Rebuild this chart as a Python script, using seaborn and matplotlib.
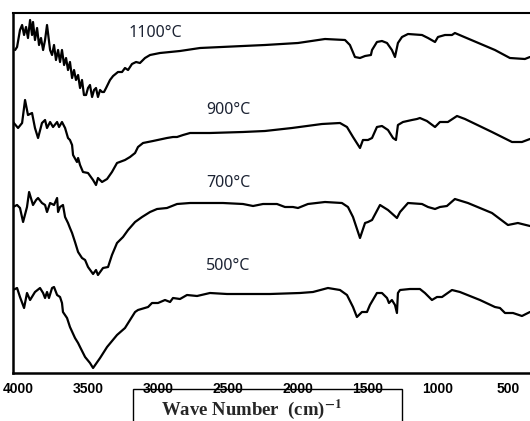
import matplotlib
matplotlib.use("Agg")
import matplotlib.pyplot as plt
from matplotlib.patches import Rectangle
import seaborn as sns

# ---------------- data (wavenumber cm-1, transmittance arbitrary offset units) ----------------
wn_1100 = [4021, 4007, 3986, 3971, 3957, 3943, 3929, 3914, 3900, 3893,
           3879, 3864, 3850, 3836, 3821, 3807, 3793, 3771, 3757, 3743,
           3729, 3714, 3700, 3686, 3671, 3657, 3643, 3629, 3614, 3600,
           3586, 3571, 3557, 3543, 3529, 3514, 3500, 3486, 3471, 3457,
           3443, 3429, 3414, 3400, 3386, 3371, 3343, 3321, 3286, 3257,
           3236, 3214, 3186, 3157, 3129, 3093, 3057, 2986, 2914, 2843,
           2700, 2393, 2236, 2000, 1807, 1664, 1629, 1593, 1557, 1521,
           1479, 1471, 1436, 1400, 1364, 1329, 1307, 1286, 1257, 1214,
           1114, 1071, 1021, 1000, 950, 900, 879, 829, 593, 486,
           379, 343]
t_1100 = [323, 326, 343, 348, 338, 346, 335, 353, 338, 351,
          333, 345, 328, 335, 323, 333, 348, 323, 318, 328,
          313, 323, 311, 323, 308, 315, 303, 311, 295, 303,
          293, 298, 285, 293, 278, 278, 285, 288, 276, 283,
          285, 276, 283, 281, 281, 285, 293, 297, 301, 301,
          305, 303, 309, 311, 310, 315, 318, 320, 321, 322,
          325, 327, 328, 330, 334, 333, 328, 316, 315, 317,
          318, 323, 331, 332, 330, 323, 316, 330, 336, 339,
          338, 335, 331, 336, 338, 338, 340, 337, 323, 315,
          314, 316]

wn_900 = [4036, 4000, 3971, 3950, 3929, 3900, 3879, 3857, 3829, 3807,
          3793, 3771, 3750, 3721, 3707, 3686, 3664, 3643, 3629, 3614,
          3607, 3579, 3571, 3557, 3536, 3500, 3464, 3443, 3429, 3400,
          3364, 3329, 3293, 3236, 3200, 3164, 3143, 3107, 3036, 2936,
          2893, 2864, 2821, 2771, 2629, 2393, 2236, 2043, 1829, 1700,
          1650, 1607, 1557, 1536, 1500, 1471, 1436, 1400, 1357, 1321,
          1300, 1286, 1250, 1186, 1150, 1129, 1079, 1021, 986, 929,
          864, 807, 614, 471, 400, 343]
t_900 = [251, 245, 250, 273, 258, 260, 245, 235, 250, 253,
         245, 251, 246, 251, 246, 251, 245, 235, 233, 228,
         218, 211, 215, 208, 201, 200, 193, 188, 195, 191,
         194, 201, 210, 213, 216, 220, 226, 230, 232, 235,
         236, 236, 238, 240, 240, 241, 242, 245, 249, 250,
         246, 236, 225, 233, 233, 235, 246, 247, 243, 235,
         233, 248, 251, 253, 254, 255, 252, 246, 251, 251,
         257, 254, 241, 231, 231, 234]

wn_700 = [4036, 4007, 3986, 3964, 3936, 3921, 3893, 3871, 3857, 3829,
          3807, 3793, 3771, 3743, 3721, 3714, 3700, 3679, 3664, 3643,
          3629, 3614, 3593, 3571, 3543, 3521, 3500, 3464, 3443, 3429,
          3393, 3357, 3329, 3293, 3250, 3214, 3164, 3114, 3057, 3007,
          2936, 2864, 2771, 2629, 2536, 2393, 2321, 2250, 2150, 2093,
          2036, 2000, 1929, 1807, 1686, 1643, 1607, 1557, 1521, 1500,
          1471, 1414, 1357, 1293, 1271, 1214, 1114, 1071, 1021, 986,
          936, 879, 786, 614, 500, 429, 343]
t_700 = [166, 168, 165, 151, 166, 181, 168, 173, 175, 170,
         168, 161, 170, 168, 175, 161, 166, 168, 156, 150,
         145, 140, 131, 121, 115, 113, 106, 99, 103, 98,
         105, 106, 118, 130, 136, 143, 151, 156, 161, 164,
         165, 169, 170, 170, 170, 169, 167, 169, 169, 166,
         166, 165, 169, 171, 170, 166, 156, 135, 150, 151,
         153, 168, 163, 155, 161, 170, 169, 166, 164, 166,
         167, 174, 170, 160, 148, 150, 147]

wn_500 = [4036, 4007, 3986, 3957, 3936, 3914, 3879, 3843, 3821, 3807,
          3793, 3779, 3757, 3743, 3721, 3700, 3686, 3679, 3650, 3629,
          3593, 3571, 3557, 3521, 3486, 3464, 3414, 3364, 3293, 3236,
          3164, 3143, 3071, 3043, 3000, 2950, 2914, 2893, 2843, 2793,
          2721, 2629, 2507, 2200, 1986, 1893, 1786, 1700, 1650, 1607,
          1579, 1543, 1507, 1486, 1436, 1400, 1364, 1350, 1329, 1307,
          1293, 1286, 1271, 1200, 1129, 1093, 1043, 1007, 971, 900,
          843, 700, 593, 557, 521, 464, 400, 343]
t_500 = [83, 85, 76, 65, 80, 73, 81, 85, 80, 75,
         81, 75, 85, 86, 78, 76, 70, 61, 55, 46,
         35, 30, 26, 16, 10, 5, 15, 26, 38, 45,
         61, 63, 66, 70, 70, 73, 71, 75, 74, 78,
         77, 80, 79, 79, 80, 81, 85, 83, 78, 66,
         56, 61, 61, 68, 80, 80, 75, 70, 73, 68,
         60, 80, 83, 84, 84, 80, 73, 76, 76, 83,
         81, 73, 66, 65, 60, 60, 57, 61]

labels = ["1100°C", "900°C", "700°C", "500°C"]
label_wn = [3020, 2500, 2500, 2500]
label_t = [340, 263, 190, 107]

xticks = [4000, 3500, 3000, 2500, 2000, 1500, 1000, 500]
xlabel = r"Wave Number  (cm)$^{\mathbf{-1}}$"

# ---------------- plotting ----------------
sns.set_style("white")
plt.rcParams["mathtext.fontset"] = "stix"

fig = plt.figure(figsize=(5.30, 4.21), dpi=100)
W, H = 530, 421
ax = fig.add_axes([13 / W, (H - 373) / H, (540 - 13) / W, 360 / H])

for wn, t in [(wn_1100, t_1100), (wn_900, t_900), (wn_700, t_700), (wn_500, t_500)]:
    sns.lineplot(x=wn, y=t, color="black", linewidth=1.6, ax=ax, sort=False)

ax.set_xlim(4036, 271)
ax.set_ylim(0, 360)
ax.set_xticks(xticks)
ax.set_xticklabels([str(v) for v in xticks], fontfamily="Liberation Sans",
                   fontweight="bold", fontsize=10)
ax.set_yticks([])
ax.tick_params(axis="x", direction="out", length=2.5, width=1.5, pad=4.0, colors="black")
for name in ["left", "bottom"]:
    ax.spines[name].set_linewidth(1.8)
    ax.spines[name].set_color("black")
ax.spines["top"].set_linewidth(1.5)
ax.spines["top"].set_color("black")
ax.spines["right"].set_visible(False)
ax.set_xlabel("")
ax.set_ylabel("")

for lab, x, y in zip(labels, label_wn, label_t):
    ax.text(x, y, lab, ha="center", va="center", fontsize=11.5,
            fontfamily="Noto Sans", color="#1c2333")

# x-axis label in a box
rect = Rectangle((133 / W, -0.05), (402 - 133) / W, (H - 389) / H + 0.05,
                 transform=fig.transFigure, fill=False, edgecolor="black",
                 linewidth=1.0, clip_on=False)
fig.patches.append(rect)
fig.text(251 / W, (H - 409) / H, xlabel, ha="center", va="center",
         fontsize=13.5, fontweight="bold", fontfamily="Liberation Serif")

fig.savefig("out.png", dpi=100)
